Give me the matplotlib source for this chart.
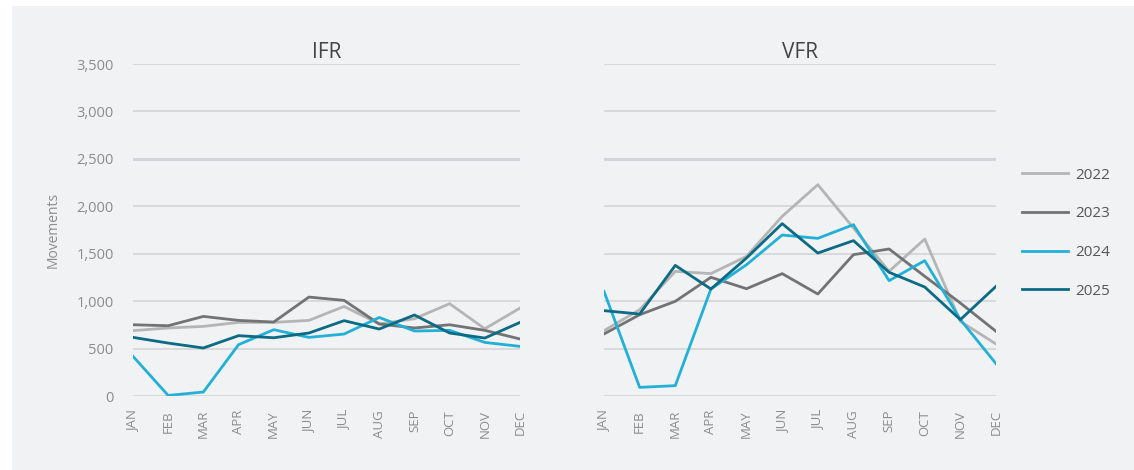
import numpy as np
import matplotlib.pyplot as plt
from matplotlib.patches import Rectangle

plt.rcParams['font.family'] = ['Open Sans', 'DejaVu Sans']

months = ['JAN', 'FEB', 'MAR', 'APR', 'MAY', 'JUN', 'JUL', 'AUG', 'SEP', 'OCT', 'NOV', 'DEC']
years = ['2022', '2023', '2024', '2025']

ifr_2022 = [689, 717, 734, 776, 776, 797, 944, 760, 815, 973, 709, 927]
ifr_2023 = [751, 741, 839, 797, 780, 1043, 1008, 759, 717, 751, 692, 601]
ifr_2024 = [418, 6, 42, 541, 699, 618, 653, 828, 685, 692, 565, 523]
ifr_2025 = [618, 558, 506, 636, 614, 664, 794, 706, 854, 664, 611, 776]

vfr_2022 = [689, 910, 1314, 1290, 1472, 1894, 2228, 1771, 1314, 1655, 787, 548]
vfr_2023 = [654, 857, 998, 1251, 1131, 1290, 1075, 1490, 1550, 1262, 980, 682]
vfr_2024 = [1103, 91, 109, 1128, 1384, 1697, 1662, 1806, 1216, 1427, 805, 341]
vfr_2025 = [900, 864, 1377, 1128, 1455, 1817, 1507, 1638, 1304, 1149, 805, 1156]

colors = ['#b5b5b5', '#737373', '#23b0d6', '#0b6a84']
yticks = [0, 500, 1000, 1500, 2000, 2500, 3000, 3500]

fig = plt.figure(figsize=(11.34, 4.70), dpi=100)
fig.patch.set_facecolor('white')
# light grey panel behind everything
fig.patches.append(Rectangle((12 / 1134, 0), 1 - 12 / 1134, 1 - 6 / 470,
                             transform=fig.transFigure, facecolor='#f1f2f4',
                             edgecolor='none', zorder=-10))

ax1 = fig.add_axes([133 / 1134, 1 - 396 / 470, 387 / 1134, 332 / 470])
ax2 = fig.add_axes([604 / 1134, 1 - 396 / 470, 392 / 1134, 332 / 470])

x = np.arange(len(months))
panels = [(ax1, 'IFR', [ifr_2022, ifr_2023, ifr_2024, ifr_2025]),
          (ax2, 'VFR', [vfr_2022, vfr_2023, vfr_2024, vfr_2025])]

for ax, title, series in panels:
    ax.set_facecolor('none')
    for yt in yticks:
        lw = 2.2 if yt == 2500 else 1.2
        ax.axhline(yt, color='#d3d4d7', lw=lw, zorder=1)
    for s, c, yr in zip(series, colors, years):
        ax.plot(x, s, color=c, lw=2.0, label=yr, zorder=3)
    ax.set_xlim(0, 11)
    ax.set_ylim(0, 3500)
    ax.set_yticks(yticks)
    ax.set_xticks(x)
    ax.set_xticklabels(months, rotation=90, fontsize=9.5, color='#8c8c8c')
    for sp in ax.spines.values():
        sp.set_visible(False)
    ax.tick_params(length=0, pad=10)
    ax.set_title(title, fontsize=15, color='#444444', pad=4)

ax1.set_yticklabels([f'{v:,}' for v in yticks], fontsize=10.5, color='#8c8c8c')
ax1.tick_params(axis='y', pad=14)
ax1.set_ylabel('Movements', fontsize=10, color='#8c8c8c', labelpad=11)
ax2.set_yticklabels([])

leg = ax2.legend(loc='upper left', bbox_to_anchor=(1008 / 1134, 1 - 154 / 470),
                 bbox_transform=fig.transFigure, frameon=False, fontsize=11,
                 handlelength=3.0, handletextpad=0.5, labelspacing=1.55)
for t in leg.get_texts():
    t.set_color('#555555')

fig.savefig('out.png', dpi=100, facecolor=fig.get_facecolor())
